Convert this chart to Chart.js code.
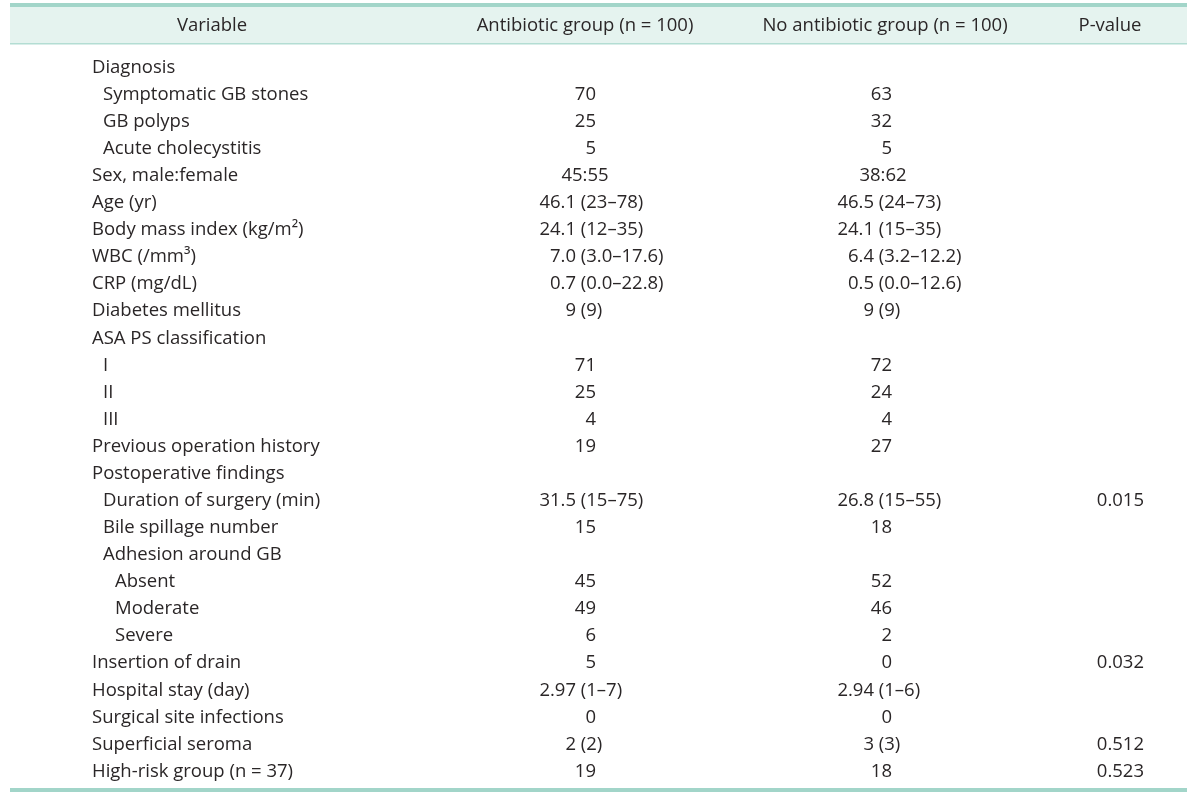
<!DOCTYPE html>
<html>
<head>
<meta charset="utf-8">
<script src="https://cdn.jsdelivr.net/npm/chart.js@4"></script>
<style>
  html, body { margin: 0; padding: 0; background: #fff; }
  canvas { display: block; }
</style>
</head>
<body>
<canvas id="table" width="1200" height="795"></canvas>
<script>
const headers = ['Variable', 'Antibiotic group (n = 100)', 'No antibiotic group (n = 100)', 'P-value'];

const variables = [
  'Diagnosis', 'Symptomatic GB stones', 'GB polyps', 'Acute cholecystitis',
  'Sex, male:female', 'Age (yr)', 'Body mass index (kg/m²)', 'WBC (/mm³)',
  'CRP (mg/dL)', 'Diabetes mellitus', 'ASA PS classification', 'I', 'II', 'III',
  'Previous operation history', 'Postoperative findings', 'Duration of surgery (min)',
  'Bile spillage number', 'Adhesion around GB', 'Absent', 'Moderate', 'Severe',
  'Insertion of drain', 'Hospital stay (day)', 'Surgical site infections',
  'Superficial seroma', 'High-risk group (n = 37)',
];
const levels = [0, 1, 1, 1, 0, 0, 0, 0, 0, 0, 0, 1, 1, 1, 0, 0, 1, 1, 1, 2, 2, 2, 0, 0, 0, 0, 0];

const antibiotic = [
  '', '70', '25', '5', '45:55', '46.1 (23–78)', '24.1 (12–35)', '7.0 (3.0–17.6)',
  '0.7 (0.0–22.8)', '9 (9)', '', '71', '25', '4', '19', '', '31.5 (15–75)', '15', '',
  '45', '49', '6', '5', '2.97 (1–7)', '0', '2 (2)', '19',
];
const noAntibiotic = [
  '', '63', '32', '5', '38:62', '46.5 (24–73)', '24.1 (15–35)', '6.4 (3.2–12.2)',
  '0.5 (0.0–12.6)', '9 (9)', '', '72', '24', '4', '27', '', '26.8 (15–55)', '18', '',
  '52', '46', '2', '0', '2.94 (1–6)', '0', '3 (3)', '18',
];
const pValues = [
  '', '', '', '', '', '', '', '', '', '', '', '', '', '', '', '', '0.015', '', '',
  '', '', '', '0.032', '', '', '0.512', '0.523',
];

const FONT = '18.5px "Open Sans"';
const TEXT = '#2a2627';

// where each column sits on the x scale
const cols = [
  { header: 212, text: [92, 103, 115] },
  { header: 585, split: 576, right: 596, center: 585 },
  { header: 885, split: 874, right: 892, center: 883 },
  { header: 1110, right: 1144 },
];

function drawCell(ctx, x, y, s, col) {
  if (!s) return;
  if (col.split && s.indexOf(' (') > 0) {
    const i = s.indexOf(' (');
    const sx = x(col.split);
    ctx.textAlign = 'right';
    ctx.fillText(s.slice(0, i), sx, y);
    ctx.textAlign = 'left';
    ctx.fillText(s.slice(i), sx, y);
  } else if (col.center && s.indexOf(':') > 0) {
    ctx.textAlign = 'center';
    ctx.fillText(s, x(col.center), y);
  } else {
    ctx.textAlign = 'right';
    ctx.fillText(s, x(col.right), y);
  }
}

const tablePlugin = {
  id: 'tableText',
  beforeDraw(chart) {
    const { ctx } = chart;
    ctx.save();
    ctx.fillStyle = '#e5f3ef';
    ctx.fillRect(10, 7, 1177, 36);
    ctx.fillStyle = '#a2d5c9';
    ctx.fillRect(10, 3, 1177, 4);
    ctx.fillRect(10, 788, 1177, 4);
    ctx.fillStyle = '#b3ddd3';
    ctx.fillRect(10, 43, 1177, 1.5);
    ctx.restore();
  },
  afterDatasetsDraw(chart) {
    const { ctx, scales } = chart;
    const x = v => scales.x.getPixelForValue(v);
    const yRow = i => scales.y.getPixelForValue(i);
    ctx.save();
    ctx.font = FONT;
    ctx.fillStyle = TEXT;
    ctx.textBaseline = 'middle';

    ctx.textAlign = 'center';
    headers.forEach((h, c) => ctx.fillText(h, x(cols[c].header), 26));

    variables.forEach((v, i) => {
      const y = yRow(i);
      ctx.textAlign = 'left';
      ctx.fillText(v, x(cols[0].text[levels[i]]), y);
      drawCell(ctx, x, y, antibiotic[i], cols[1]);
      drawCell(ctx, x, y, noAntibiotic[i], cols[2]);
      drawCell(ctx, x, y, pValues[i], cols[3]);
    });
    ctx.restore();
  },
};

new Chart(document.getElementById('table'), {
  type: 'scatter',
  data: {
    labels: variables,
    datasets: [],
  },
  options: {
    responsive: false,
    animation: false,
    events: [],
    layout: { padding: { top: 54, bottom: 10, left: 0, right: 0 } },
    plugins: { legend: { display: false }, tooltip: { enabled: false } },
    scales: {
      x: { type: 'linear', min: 0, max: 1200, display: false },
      y: { type: 'category', labels: variables, offset: true, display: false },
    },
  },
  plugins: [tablePlugin],
});
</script>
</body>
</html>
